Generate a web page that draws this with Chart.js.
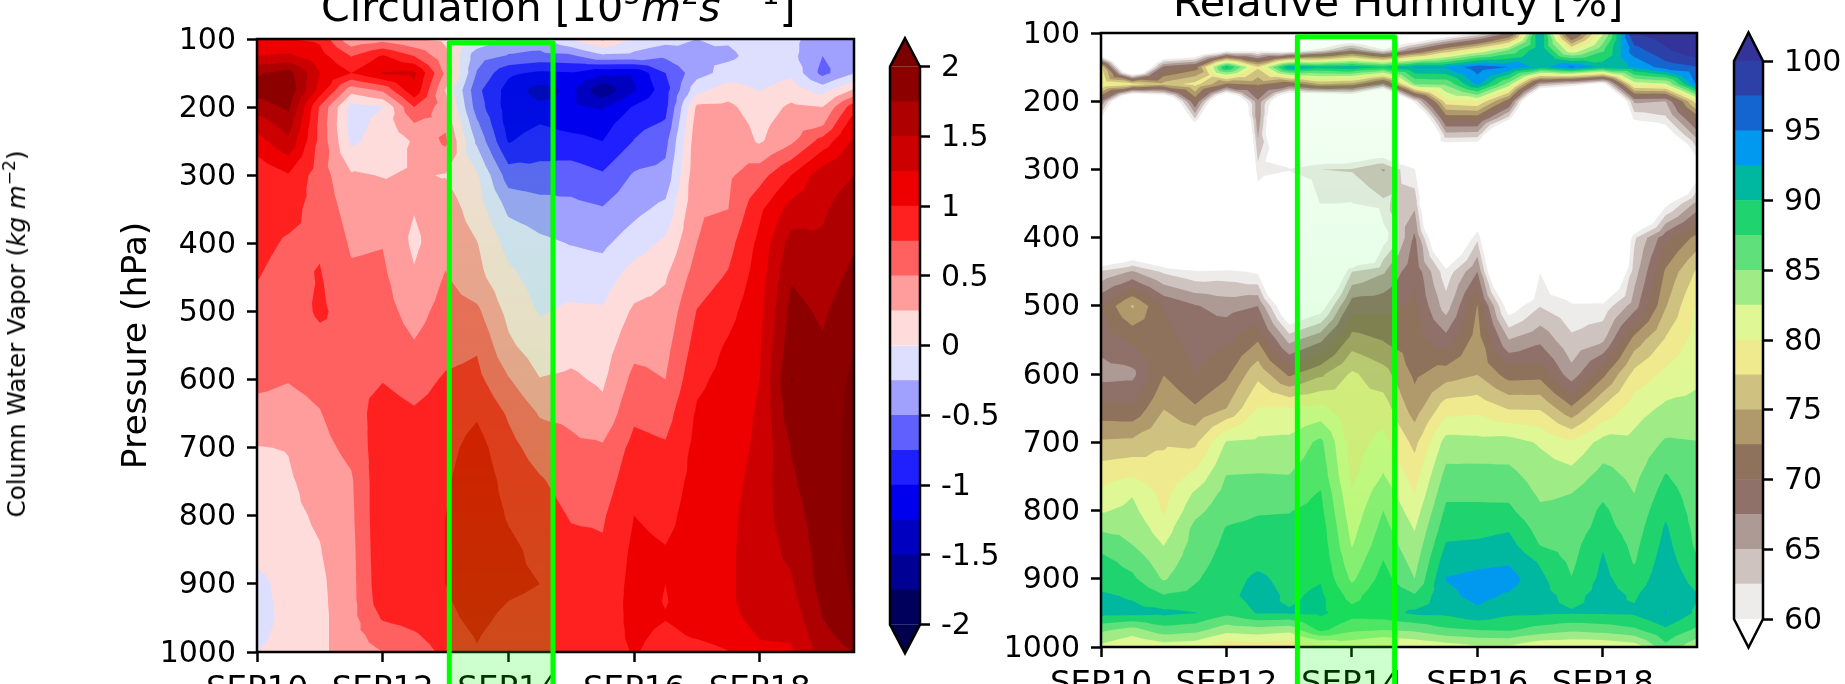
<!DOCTYPE html>
<html><head><meta charset="utf-8">
<style>
html,body{margin:0;padding:0;background:#fff;overflow:hidden;width:1845px;height:684px}
canvas{position:absolute;top:0}
.t{position:absolute;font-family:"DejaVu Sans";color:#000;white-space:nowrap}
.title{font-size:41.2px;line-height:41px}
.title sup{font-size:28px;line-height:0;vertical-align:baseline;position:relative;top:-17px}
#cwv{font-size:24.6px;line-height:28px;transform:translate(-50%,-50%) rotate(-90deg);left:17px;top:334px}
#cwv sup{font-size:17px;line-height:0;vertical-align:baseline;position:relative;top:-10px}
</style>
<script src="https://cdn.jsdelivr.net/npm/chart.js@4/dist/chart.umd.js"></script>
</head><body>
<canvas id="left" width="870" height="684" style="left:0"></canvas>
<canvas id="leftBar" width="150" height="684" style="left:860px"></canvas>
<canvas id="right" width="760" height="684" style="left:960px"></canvas>
<canvas id="rightBar" width="140" height="684" style="left:1705px"></canvas>
<div class="t title" style="left:321px;top:-13px">Circulation [10<sup>5</sup><i>m</i><sup>2</sup><i>s</i><sup>&nbsp;&nbsp;&#8722;1</sup>]</div>
<div class="t title" style="left:1173px;top:-18px">Relative Humidity [%]</div>
<div class="t" id="cwv">Column Water Vapor (<i>kg m</i><sup>&#8722;2</sup>)</div>
<script>
// ---- data ----
const timeDays = [0,0.5,1,1.5,2,2.5,3,3.5,4,4.5,5,5.5,6,6.5,7,7.5,8,8.5,9,9.5];
const xTickDays = [0,2,4,6,8];
const xTickLabels = ['SEP10','SEP12','SEP14','SEP16','SEP18'];

const circulationPressure = [100,125,150,175,200,225,250,300,350,400,450,500,550,600,650,700,750,800,850,900,925,950,975,1000];
const circulation = [
[1.0,1.25,1.72,1.85,1.62,1.35,1.15,.8,.85,.82,.76,.68,.62,.55,.43,.24,.15,.1,.12,-.1,-.1,-.13,-.06,0],
[1.0,1.3,1.85,1.95,1.8,1.62,1.45,.98,.83,.72,.65,.58,.54,.51,.42,.26,.22,.2,.18,.13,.1,.1,.09,.08],
[.95,1.1,1.26,1.15,.72,.68,.68,.62,.65,.72,.77,.8,.65,.56,.49,.43,.35,.28,.24,.2,.19,.18,.18,.18],
[.3,.74,1.0,.35,-.1,-.12,-.05,.28,.4,.47,.54,.62,.68,.7,.65,.56,.47,.45,.43,.42,.42,.42,.42,.42],
[.4,1.03,1.27,.55,-.01,.1,.12,.24,.37,.49,.55,.6,.66,.74,.85,.92,.95,.96,.95,.93,.9,.78,.6,.5],
[.25,.75,1.3,1.2,.75,.48,.27,.27,.26,.2,.28,.4,.52,.65,.78,.88,.95,.98,.98,.95,.9,.85,.72,.6],
[.2,.32,.45,.24,.36,.45,.55,.24,.38,.42,.52,.6,.66,.78,.85,.92,.97,1.0,1.0,1.0,.97,.93,.88,.82],
[-.05,-.4,-.52,-.68,-.62,-.45,-.3,.03,.13,.26,.33,.55,.72,.82,.97,1.1,1.15,1.15,1.18,1.15,1.12,1.08,1.02,.98],
[-.35,-.52,-.95,-1.1,-1.12,-1.1,-1.02,-.62,-.3,-.08,.06,.18,.3,.52,.72,.83,.92,.98,1.05,1.05,1.0,.93,.88,.85],
[-.33,-.58,-1.05,-1.35,-1.2,-1.0,-.88,-.66,-.38,-.2,-.1,-.02,.1,.26,.48,.64,.78,.87,.94,1.0,.96,.9,.85,.82],
[.02,-.55,-1.02,-1.2,-1.2,-1.08,-.92,-.62,-.43,-.26,-.1,.04,.17,.29,.45,.55,.64,.73,.82,.85,.86,.85,.83,.8],
[.3,-.3,-1.2,-1.7,-1.28,-1.1,-1.0,-.72,-.48,-.3,-.13,.03,.13,.21,.32,.53,.62,.72,.78,.82,.85,.86,.88,.88],
[-.05,-.32,-1.22,-1.28,-.97,-.82,-.74,-.47,-.32,-.12,.12,.29,.42,.57,.7,.83,.92,1.0,1.05,1.08,1.08,1.07,1.05,1.02],
[-.15,-.45,-.75,-.85,-.82,-.72,-.58,-.42,-.18,.05,.23,.33,.42,.5,.65,.78,.88,.94,1.01,1.0,.99,1.01,.95,.9],
[-.25,-.25,-.35,-.08,.3,.38,.42,.45,.47,.5,.62,.76,.85,.95,1.03,1.07,1.08,1.1,1.1,1.1,1.1,1.08,1.03,.9],
[-.22,-.3,-.15,.13,.31,.38,.42,.46,.5,.66,.78,.92,1.03,1.08,1.12,1.14,1.16,1.19,1.2,1.2,1.2,1.17,1.1,.99],
[-.12,-.15,-.12,-.01,.1,.18,.22,.65,.95,1.07,1.13,1.18,1.22,1.25,1.28,1.3,1.35,1.38,1.4,1.41,1.4,1.35,1.27,1.2],
[-.18,-.18,-.05,.12,.3,.38,.45,1.0,1.35,1.6,1.73,1.83,1.9,2.01,1.9,1.76,1.72,1.65,1.55,1.47,1.42,1.35,1.28,1.22],
[-.4,-.5,-.58,-.1,.25,.47,.85,1.4,1.47,1.53,1.62,1.71,1.78,1.85,1.87,1.88,1.88,1.88,1.87,1.85,1.8,1.75,1.68,1.6],
[-.35,-.35,-.26,.28,.9,1.17,1.3,1.5,1.62,1.72,1.82,1.92,1.99,2.05,2.07,2.08,2.08,2.08,2.06,2.04,2.02,1.97,1.87,1.76]
];
const circulationLevels = [-2,-1.75,-1.5,-1.25,-1,-.75,-.5,-.25,0,.25,.5,.75,1,1.25,1.5,1.75,2];
const circulationColours = ['#00005c','#000094','#0000c0','#0000ee','#2020ff','#6060ff','#a0a0ff','#dedeff','#ffdcdc','#ff9c9c','#ff6060','#ff2020','#ee0000','#cc0000','#ae0000','#8c0000','#7c0000'];
const circulationUnder = '#00004c';
const circulationTicks = [-2,-1.5,-1,-.5,0,.5,1,1.5,2];

const humidityPressure = [100,125,150,175,200,225,250,300,350,400,450,500,550,600,650,700,750,775,800,825,850,875,900,925,950,975,1000];
const humidity = [
[40,50,78,81,68,60,52,40,38,44,62.9,70.1,68.5,66.5,70.8,75.4,79.2,80.4,82.2,84.5,86.7,88.3,88.9,90.4,91,85.5,81.8],
[30,38,45,78.5,45,35,30,25,25,50,65.3,75.3,70.5,66.8,70.5,75.6,80,82.3,83.2,84.3,85,86.7,88,89.7,90.8,84,79.8],
[38,50,68.5,76,50,42,38,33,30,46,62.1,69.8,71,72.4,74.9,77.2,78.5,79.2,79.7,81,82.4,83.6,84.7,87.7,90.6,86.5,81],
[40,52,71,78.5,70.5,62.7,52,32,28,38,60.5,67.7,69,70,72.8,77,80.7,82.9,84.2,85.7,86,86.5,87.2,88.2,90.1,85.9,80.5],
[45,58,91,72,48,38,32,30,28,35,60.9,66.5,69.5,72,75,82.7,85.1,85.8,86.6,87.6,88,88.5,89,89.3,88.2,83.5,78],
[48,58,78,73,67,67,65.3,61.7,57,45,59.5,67.5,72.3,76.8,80.1,83,85.2,86.3,87.3,88,88.6,89.4,90.5,91,90.2,84,78.5],
[50,57,93,70,50,42,45,60.3,50,38,40,55,64.2,72,80.1,83.2,85.1,86.2,87.4,88,88.4,88.8,89.2,89.6,90.2,83.3,77.8],
[50,61,91,75,47,40,45,62.5,60.1,52,48,58,67,74.5,80.6,85.6,86.7,87.7,88.2,88.8,89.1,89.4,89.8,90.5,90.5,88.1,79],
[50,67,92,74,50,45,50,62.7,59.9,38,62.5,69,73.6,77.9,78.3,78.8,79.5,80.2,80.9,81.6,82.3,83.4,84.5,86.5,88.5,85.6,80.5],
[48,60.5,90,67,40,38,50,65.2,62,58.5,64.7,69.2,72.4,76,78.8,80.8,82.7,84,85,85.8,86.6,87.6,88.5,89.6,89,85,79],
[50,68,93,85,61,50,42,60.2,64.3,68,69.5,70.5,71.2,72,73.7,76.8,79,80,81.2,82.3,83.2,84.1,85,87.8,90.5,85.5,80],
[55,75,93,85.5,79,71,63.8,45,35,50,60.9,63.7,68.5,73.8,78.9,83.5,85.9,87,88,89,90.2,91.5,92.6,91.9,90.6,87,81],
[60,80,96.5,93,80,71,63.5,45,52,61.9,67.5,72.6,73.8,74.9,79.2,83.3,86,87,88,89.2,90.4,91.9,93.2,93.2,92,87.5,82],
[68,85,95,84,71,61.5,45,35,35,40,45,58,65.1,71.4,77.3,83.5,85.8,86.9,88,89.7,90.9,92.2,93.6,92.2,90.5,87.8,82],
[92.4,92.4,91.5,65,45,40,38,36,40,48,59.9,62.4,66.9,71.6,77.2,82.2,83.9,84.6,85.4,86.4,87.4,89.7,90.6,90.8,90.4,86.5,80],
[67,80,95.5,62,42,38,36,35,35,40,52,60.7,63,66,72.9,80.3,83.5,85,85.5,86,86.5,87,87.6,89.3,90.2,85.5,80],
[82,87,91.5,58,42,38,35,33,33,38,48,60.8,64.6,71.8,77.9,83.4,86,87,88,88.5,89.8,90.3,90.7,90.9,90.3,86,80],
[100,96.5,92.8,81,65.5,60.8,52,38,42,62,63.8,66.3,73.5,78.3,81.4,83.2,84.4,85,85.6,86.2,86.8,87.3,88.4,89.7,90.4,87,81],
[101.5,99.6,96.3,82,65,62,57,40,59,69.2,72.9,74.8,77.8,80.6,83,85.3,87.7,88.6,89.5,90.3,90.8,91.4,91.8,92.2,92.6,89.5,86.8],
[103,102,97.4,95.3,79,71,66,57,65.8,73.3,77.9,80.4,81,81.9,83.3,85.1,85.9,86.2,86.4,86.7,87,87.7,89,90.2,89.5,87,83]
];
const humidityLevels = [60,62.5,65,67.5,70,72.5,75,77.5,80,82.5,85,87.5,90,92.5,95,97.5,100];
const humidityColours = ['#eeebeb','#cfc3c0','#ae9a94','#8f7169','#8e725b','#b09a6c','#cfc280','#eeea8d','#dff794','#9fec87','#5fe07a','#1fd46e','#00b8a0','#0099f0','#1565d0','#2d40a8','#333399'];
const humidityUnder = '#ffffff';
const humidityTicks = [60,65,70,75,80,85,90,95,100];

const highlightLeft = {from:3.06,to:4.71,top:105.5};
const highlightRight = {from:3.13,to:4.68,top:105.5};

// ---- drawing helpers ----
const FONT = 'DejaVu Sans';
const TICK = {family:FONT,size:30};
const XTICK = {family:FONT,size:32.5};
Chart.defaults.font.family = FONT;
Chart.defaults.animation = false;
Chart.defaults.responsive = false;
Chart.defaults.devicePixelRatio = 1;

function nudgeLabels(s){
  if(s._nudged)return; s._nudged=true;
  const d=s.drawLabels;
  s.drawLabels=function(a){s.ctx.save();s.ctx.translate(0,1.8);d.call(s,a);s.ctx.restore();};
}
function clipAbove(tri,t){
  const out=[];
  for(let i=0;i<tri.length;i++){
    const a=tri[i],b=tri[(i+1)%tri.length];
    if(a[2]>=t) out.push(a);
    if((a[2]>=t)!==(b[2]>=t)){
      const f=(t-a[2])/(b[2]-a[2]);
      out.push([a[0]+f*(b[0]-a[0]),a[1]+f*(b[1]-a[1]),t]);
    }
  }
  return out;
}
const contourPlugin = {
  id:'contour',
  beforeDatasetsDraw(chart,_,o){
    const {ctx,chartArea:A,scales:{x,y}}=chart;
    const grid=o.grid,P=o.pressure,L=o.levels,C=o.colours;
    ctx.save();
    ctx.beginPath();ctx.rect(A.left,A.top,A.right-A.left,A.bottom-A.top);ctx.clip();
    ctx.fillStyle=o.under;ctx.fillRect(A.left,A.top,A.right-A.left,A.bottom-A.top);
    const px=timeDays.map(d=>x.getPixelForValue(d)),py=P.map(p=>y.getPixelForValue(p));
    L.forEach((t,k)=>{
      ctx.beginPath();
      for(let i=0;i<px.length-1;i++)for(let j=0;j<py.length-1;j++){
        const a=[px[i],py[j],grid[i][j]],b=[px[i+1],py[j],grid[i+1][j]],
              c=[px[i+1],py[j+1],grid[i+1][j+1]],d=[px[i],py[j+1],grid[i][j+1]];
        const m=[(a[0]+b[0])/2,(a[1]+d[1])/2,(a[2]+b[2]+c[2]+d[2])/4];
        for(const tri of [[m,a,b],[m,b,c],[m,c,d],[m,d,a]]){
          const poly=clipAbove(tri,t);
          if(poly.length<3)continue;
          ctx.moveTo(poly[0][0],poly[0][1]);
          for(let n=1;n<poly.length;n++)ctx.lineTo(poly[n][0],poly[n][1]);
          ctx.closePath();
        }
      }
      ctx.fillStyle=C[k];ctx.fill();
    });
    ctx.restore();
  },
  afterDraw(chart,_,o){
    const {ctx,chartArea:A,scales:{x,y}}=chart;
    ctx.save();
    ctx.strokeStyle='#000';ctx.lineWidth=2.5;
    ctx.strokeRect(A.left,A.top,A.right-A.left,A.bottom-A.top);
    const h=o.highlight,l=x.getPixelForValue(h.from),r=x.getPixelForValue(h.to),t=y.getPixelForValue(h.top),b=chart.height+20;
    const g=ctx.createLinearGradient(0,t,0,chart.height);
    g.addColorStop(0,'rgba(0,255,0,0.03)');g.addColorStop(1,'rgba(0,255,0,0.2)');
    ctx.fillStyle=g;ctx.fillRect(l,t,r-l,b-t);
    ctx.strokeStyle='#00ff00';ctx.lineWidth=5;ctx.lineJoin='round';
    ctx.strokeRect(l,t,r-l,b-t);
    ctx.restore();
  }
};
const barPlugin = {
  id:'barEnds',
  afterDraw(chart,_,o){
    const {ctx,chartArea:A}=chart;
    const mid=(A.left+A.right)/2,tipT=A.top-o.tip,tipB=A.bottom+o.tip;
    ctx.save();
    ctx.fillStyle=o.over;ctx.beginPath();ctx.moveTo(A.left,A.top);ctx.lineTo(mid,tipT);ctx.lineTo(A.right,A.top);ctx.closePath();ctx.fill();
    ctx.fillStyle=o.under;ctx.beginPath();ctx.moveTo(A.left,A.bottom);ctx.lineTo(mid,tipB);ctx.lineTo(A.right,A.bottom);ctx.closePath();ctx.fill();
    ctx.strokeStyle='#000';ctx.lineWidth=2.5;ctx.lineJoin='miter';
    ctx.beginPath();ctx.moveTo(A.left,A.top);ctx.lineTo(mid,tipT);ctx.lineTo(A.right,A.top);ctx.lineTo(A.right,A.bottom);ctx.lineTo(mid,tipB);ctx.lineTo(A.left,A.bottom);ctx.closePath();ctx.stroke();
    ctx.restore();
  }
};
function contourChart(id,grid,P,L,C,under,highlight,box,title){
  const pts=[];
  timeDays.forEach((d,i)=>P.forEach((p,j)=>pts.push({x:d,y:p,v:grid[i][j]})));
  return new Chart(document.getElementById(id),{
    type:'scatter',
    data:{datasets:[{data:pts,pointRadius:0,showLine:false}]},
    plugins:[contourPlugin],
    options:{
      layout:{padding:{left:box.padLeft,right:box.padRight,top:box.top,bottom:0}},
      plugins:{legend:{display:false},tooltip:{enabled:false},
        contour:{grid,pressure:P,levels:L,colours:C,under,highlight}},
      scales:{
        x:{type:'linear',min:0,max:9.5,
          afterFit:s=>{s.height=box.xHeight},
          afterBuildTicks:s=>{s.ticks=xTickDays.map(v=>({value:v}))},
          border:{display:false},
          grid:{drawOnChartArea:false,drawTicks:true,tickLength:10,tickWidth:2.5,tickColor:'#000'},
          ticks:{font:XTICK,color:'#000',padding:8,maxRotation:0,autoSkip:false,includeBounds:false,
            callback:v=>xTickLabels[xTickDays.indexOf(v)]}},
        y:{type:'linear',min:100,max:1000,reverse:true,
          afterFit:s=>{s.width=box.yWidth},
          afterUpdate:nudgeLabels,
          border:{display:false},
          grid:{drawOnChartArea:false,drawTicks:true,tickLength:10,tickWidth:2.5,tickColor:'#000'},
          ticks:{font:TICK,color:'#000',padding:11,stepSize:100,autoSkip:false,callback:v=>String(v)},
          title:title?{display:true,text:title,color:'#000',font:{family:FONT,size:34.5},padding:0}:{display:false}}
      }
    }
  });
}
function colourBar(id,L,C,under,ticks,box){
  const datasets=C.slice(0,-1).map((c,k)=>({data:[[L[k],L[k+1]]],backgroundColor:c,borderWidth:0,barPercentage:1,categoryPercentage:1,grouped:false}));
  return new Chart(document.getElementById(id),{
    type:'bar',
    data:{labels:[''],datasets},
    plugins:[barPlugin],
    options:{
      layout:{padding:{left:box.left,right:0,top:box.top,bottom:box.bottom}},
      plugins:{legend:{display:false},tooltip:{enabled:false},
        barEnds:{over:C[C.length-1],under,tip:box.tip}},
      scales:{
        x:{display:false,stacked:false},
        y:{position:'right',type:'linear',min:L[0],max:L[L.length-1],
          afterFit:s=>{s.width=box.width},
          afterUpdate:nudgeLabels,
          afterBuildTicks:s=>{s.ticks=ticks.map(v=>({value:v}))},
          border:{display:false},
          grid:{drawOnChartArea:false,drawTicks:true,tickLength:10,tickWidth:2.5,tickColor:'#000'},
          ticks:{font:TICK,color:'#000',padding:11,autoSkip:false,callback:v=>String(v)}}
      }
    }
  });
}
contourChart('left',circulation,circulationPressure,circulationLevels,circulationColours,circulationUnder,highlightLeft,
  {padLeft:116,yWidth:141,padRight:16,top:39,xHeight:32},'Pressure (hPa)');
contourChart('right',humidity,humidityPressure,humidityLevels,humidityColours,humidityUnder,highlightRight,
  {padLeft:0,yWidth:141,padRight:23,top:33,xHeight:37},null);
colourBar('leftBar',circulationLevels,circulationColours,circulationUnder,circulationTicks,
  {left:30,top:66.7,bottom:59.3,width:90,tip:28.5});
colourBar('rightBar',humidityLevels,humidityColours,humidityUnder,humidityTicks,
  {left:29,top:61,bottom:65,width:82,tip:28.5});
</script>
</body></html>
